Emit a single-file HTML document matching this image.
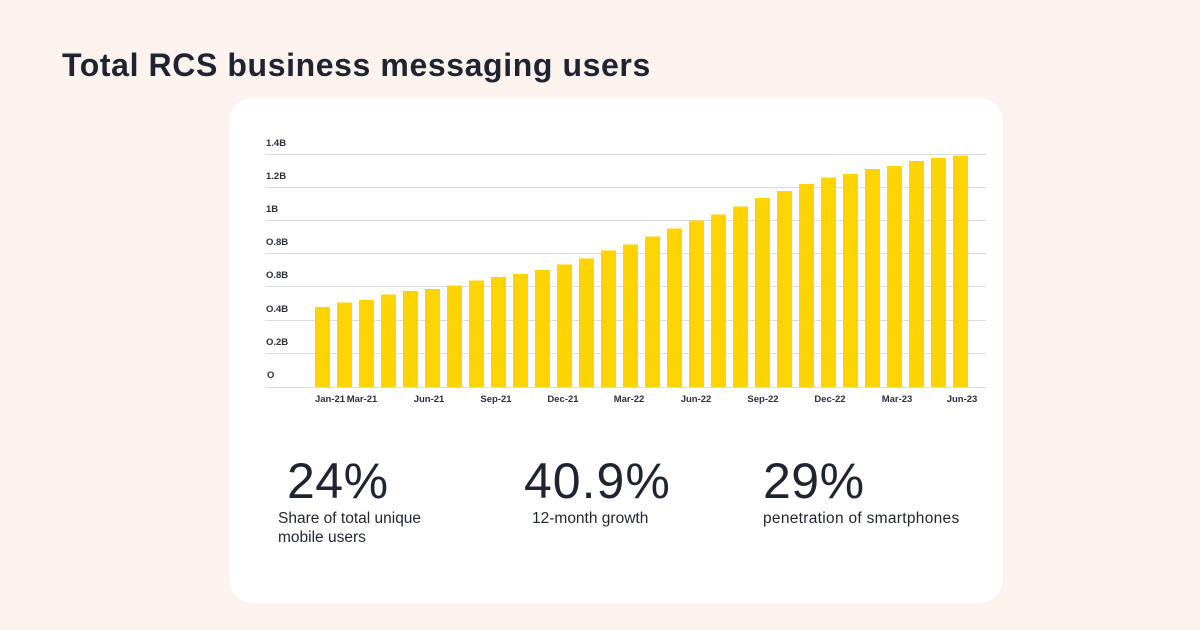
<!DOCTYPE html>
<html><head><meta charset="utf-8"><style>
html,body{margin:0;padding:0;width:1200px;height:630px;background:#fdf3ee;overflow:hidden;font-family:"Liberation Sans",sans-serif;color:#1f2430}
</style></head><body>
<svg width="1200" height="630" xmlns="http://www.w3.org/2000/svg" style="position:absolute;left:0;top:0">
<rect width="1200" height="630" fill="#fdf3ee"/>
<text x="62" y="76" font-family="Liberation Sans" font-weight="bold" font-size="32" letter-spacing="0.6" fill="#1f2430">Total RCS business messaging users</text>
<rect x="229" y="98" width="774" height="505" rx="24" fill="#fff"/>
<g stroke="#dcdcdc" stroke-width="1">
<line x1="266" x2="986" y1="154.5" y2="154.5"/><line x1="266" x2="986" y1="187.5" y2="187.5"/>
<line x1="266" x2="986" y1="220.5" y2="220.5"/><line x1="266" x2="986" y1="253.5" y2="253.5"/>
<line x1="266" x2="986" y1="286.5" y2="286.5"/><line x1="266" x2="986" y1="320.5" y2="320.5"/>
<line x1="266" x2="986" y1="353.5" y2="353.5"/><line x1="266" x2="986" y1="387.5" y2="387.5"/>
</g>
<g font-family="Liberation Sans" font-weight="bold" font-size="9.5" fill="#2a2f3a">
<text x="266" y="146">1.4B</text><text x="266" y="179">1.2B</text><text x="266" y="212">1B</text>
<text x="266" y="245">O.8B</text><text x="266" y="278">O.8B</text><text x="266" y="312">O.4B</text>
<text x="266" y="345">O.2B</text><text x="267" y="378">O</text>
</g>
<g fill="#ffd400">
<rect x="315" y="307" width="15" height="80"/>
<rect x="337" y="302.5" width="15" height="84.5"/>
<rect x="359" y="300" width="15" height="87"/>
<rect x="381" y="294.5" width="15" height="92.5"/>
<rect x="403" y="291" width="15" height="96"/>
<rect x="425" y="289" width="15" height="98"/>
<rect x="447" y="285.5" width="15" height="101.5"/>
<rect x="469" y="280.5" width="15" height="106.5"/>
<rect x="491" y="277" width="15" height="110"/>
<rect x="513" y="274" width="15" height="113"/>
<rect x="535" y="270" width="15" height="117"/>
<rect x="557" y="264.5" width="15" height="122.5"/>
<rect x="579" y="258.5" width="15" height="128.5"/>
<rect x="601" y="250.5" width="15" height="136.5"/>
<rect x="623" y="244.5" width="15" height="142.5"/>
<rect x="645" y="236.5" width="15" height="150.5"/>
<rect x="667" y="228.5" width="15" height="158.5"/>
<rect x="689" y="220.5" width="15" height="166.5"/>
<rect x="711" y="214.5" width="15" height="172.5"/>
<rect x="733" y="206.5" width="15" height="180.5"/>
<rect x="755" y="198" width="15" height="189"/>
<rect x="777" y="191" width="15" height="196"/>
<rect x="799" y="184" width="15" height="203"/>
<rect x="821" y="177.5" width="15" height="209.5"/>
<rect x="843" y="174" width="15" height="213"/>
<rect x="865" y="169" width="15" height="218"/>
<rect x="887" y="166" width="15" height="221"/>
<rect x="909" y="161" width="15" height="226"/>
<rect x="931" y="158" width="15" height="229"/>
<rect x="953" y="155.5" width="15" height="231.5"/>
</g>
<g font-family="Liberation Sans" font-weight="bold" font-size="9.5" fill="#2a2f3a" text-anchor="middle">
<text x="330" y="402">Jan-21</text><text x="362" y="402">Mar-21</text><text x="429" y="402">Jun-21</text>
<text x="496" y="402">Sep-21</text><text x="563" y="402">Dec-21</text><text x="629" y="402">Mar-22</text>
<text x="696" y="402">Jun-22</text><text x="763" y="402">Sep-22</text><text x="830" y="402">Dec-22</text>
<text x="897" y="402">Mar-23</text><text x="962" y="402">Jun-23</text>
</g>
<g font-family="Liberation Sans" fill="#1f2430">
<text x="287" y="498" font-size="50" letter-spacing="0.5">24%</text>
<text x="524" y="498" font-size="50" letter-spacing="1">40.9%</text>
<text x="763" y="498" font-size="50" letter-spacing="0.5">29%</text>
<text x="278" y="523" font-size="15.5">Share of total unique</text>
<text x="278" y="542" font-size="15.5">mobile users</text>
<text x="532" y="523" font-size="15.5">12-month growth</text>
<text x="763" y="523" font-size="15.5" letter-spacing="0.3">penetration of smartphones</text>
</g>
</svg>
</body></html>
